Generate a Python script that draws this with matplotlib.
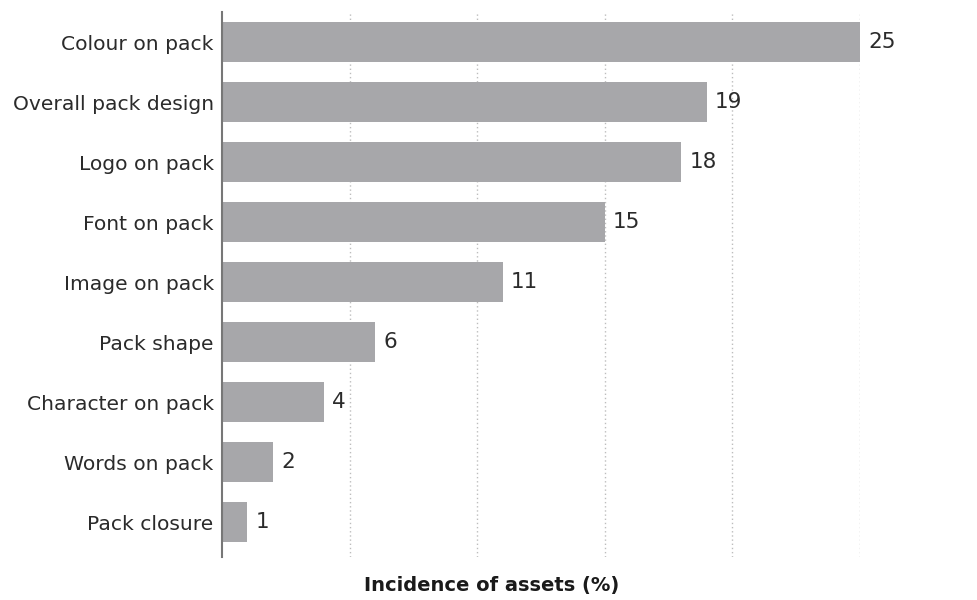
import matplotlib
matplotlib.use("Agg")
import matplotlib.pyplot as plt

# incidence of distinctive brand assets on pack (%)
assets = ["Colour on pack", "Overall pack design", "Logo on pack", "Font on pack",
          "Image on pack", "Pack shape", "Character on pack", "Words on pack",
          "Pack closure"]
incidence = [25, 19, 18, 15, 11, 6, 4, 2, 1]
grid_ticks = [5, 10, 15, 20, 25]

bar_color = "#a7a7aa"
text_color = "#2b2b2b"

fig = plt.figure(figsize=(9.77, 6.0), dpi=100)
ax = fig.add_axes([0.2272, 0.0717, 0.653, 0.9083])

pos = list(range(len(assets)))
ax.barh(pos, incidence, height=0.667, color=bar_color, zorder=2)

for p, v in zip(pos, incidence):
    ax.annotate(str(v), xy=(v, p), xytext=(6, 0), textcoords="offset points",
                va="center", ha="left", fontsize=15.5, color=text_color,
                annotation_clip=False)

ax.set_xlim(0, 25)
ax.set_ylim(8.58, -0.5)
ax.set_yticks(pos)
ax.set_yticklabels(assets, fontsize=14.6, color=text_color)
ax.set_xticks(grid_ticks)
ax.set_xticklabels([])
ax.tick_params(axis="both", length=0, pad=6)

ax.grid(axis="x", linestyle=(0, (1, 2)), color="#bdbdbd", linewidth=1.0, zorder=0)
for s in ["top", "right", "bottom"]:
    ax.spines[s].set_visible(False)
ax.spines["left"].set_color("#777777")
ax.spines["left"].set_linewidth(1.5)
ax.spines["left"].set_zorder(3)

fig.text(492 / 977, 1 - 586 / 600, "Incidence of assets (%)", ha="center", va="center",
         fontsize=14, fontweight="bold", color="#1a1a1a")

fig.savefig("out.png", dpi=100)
